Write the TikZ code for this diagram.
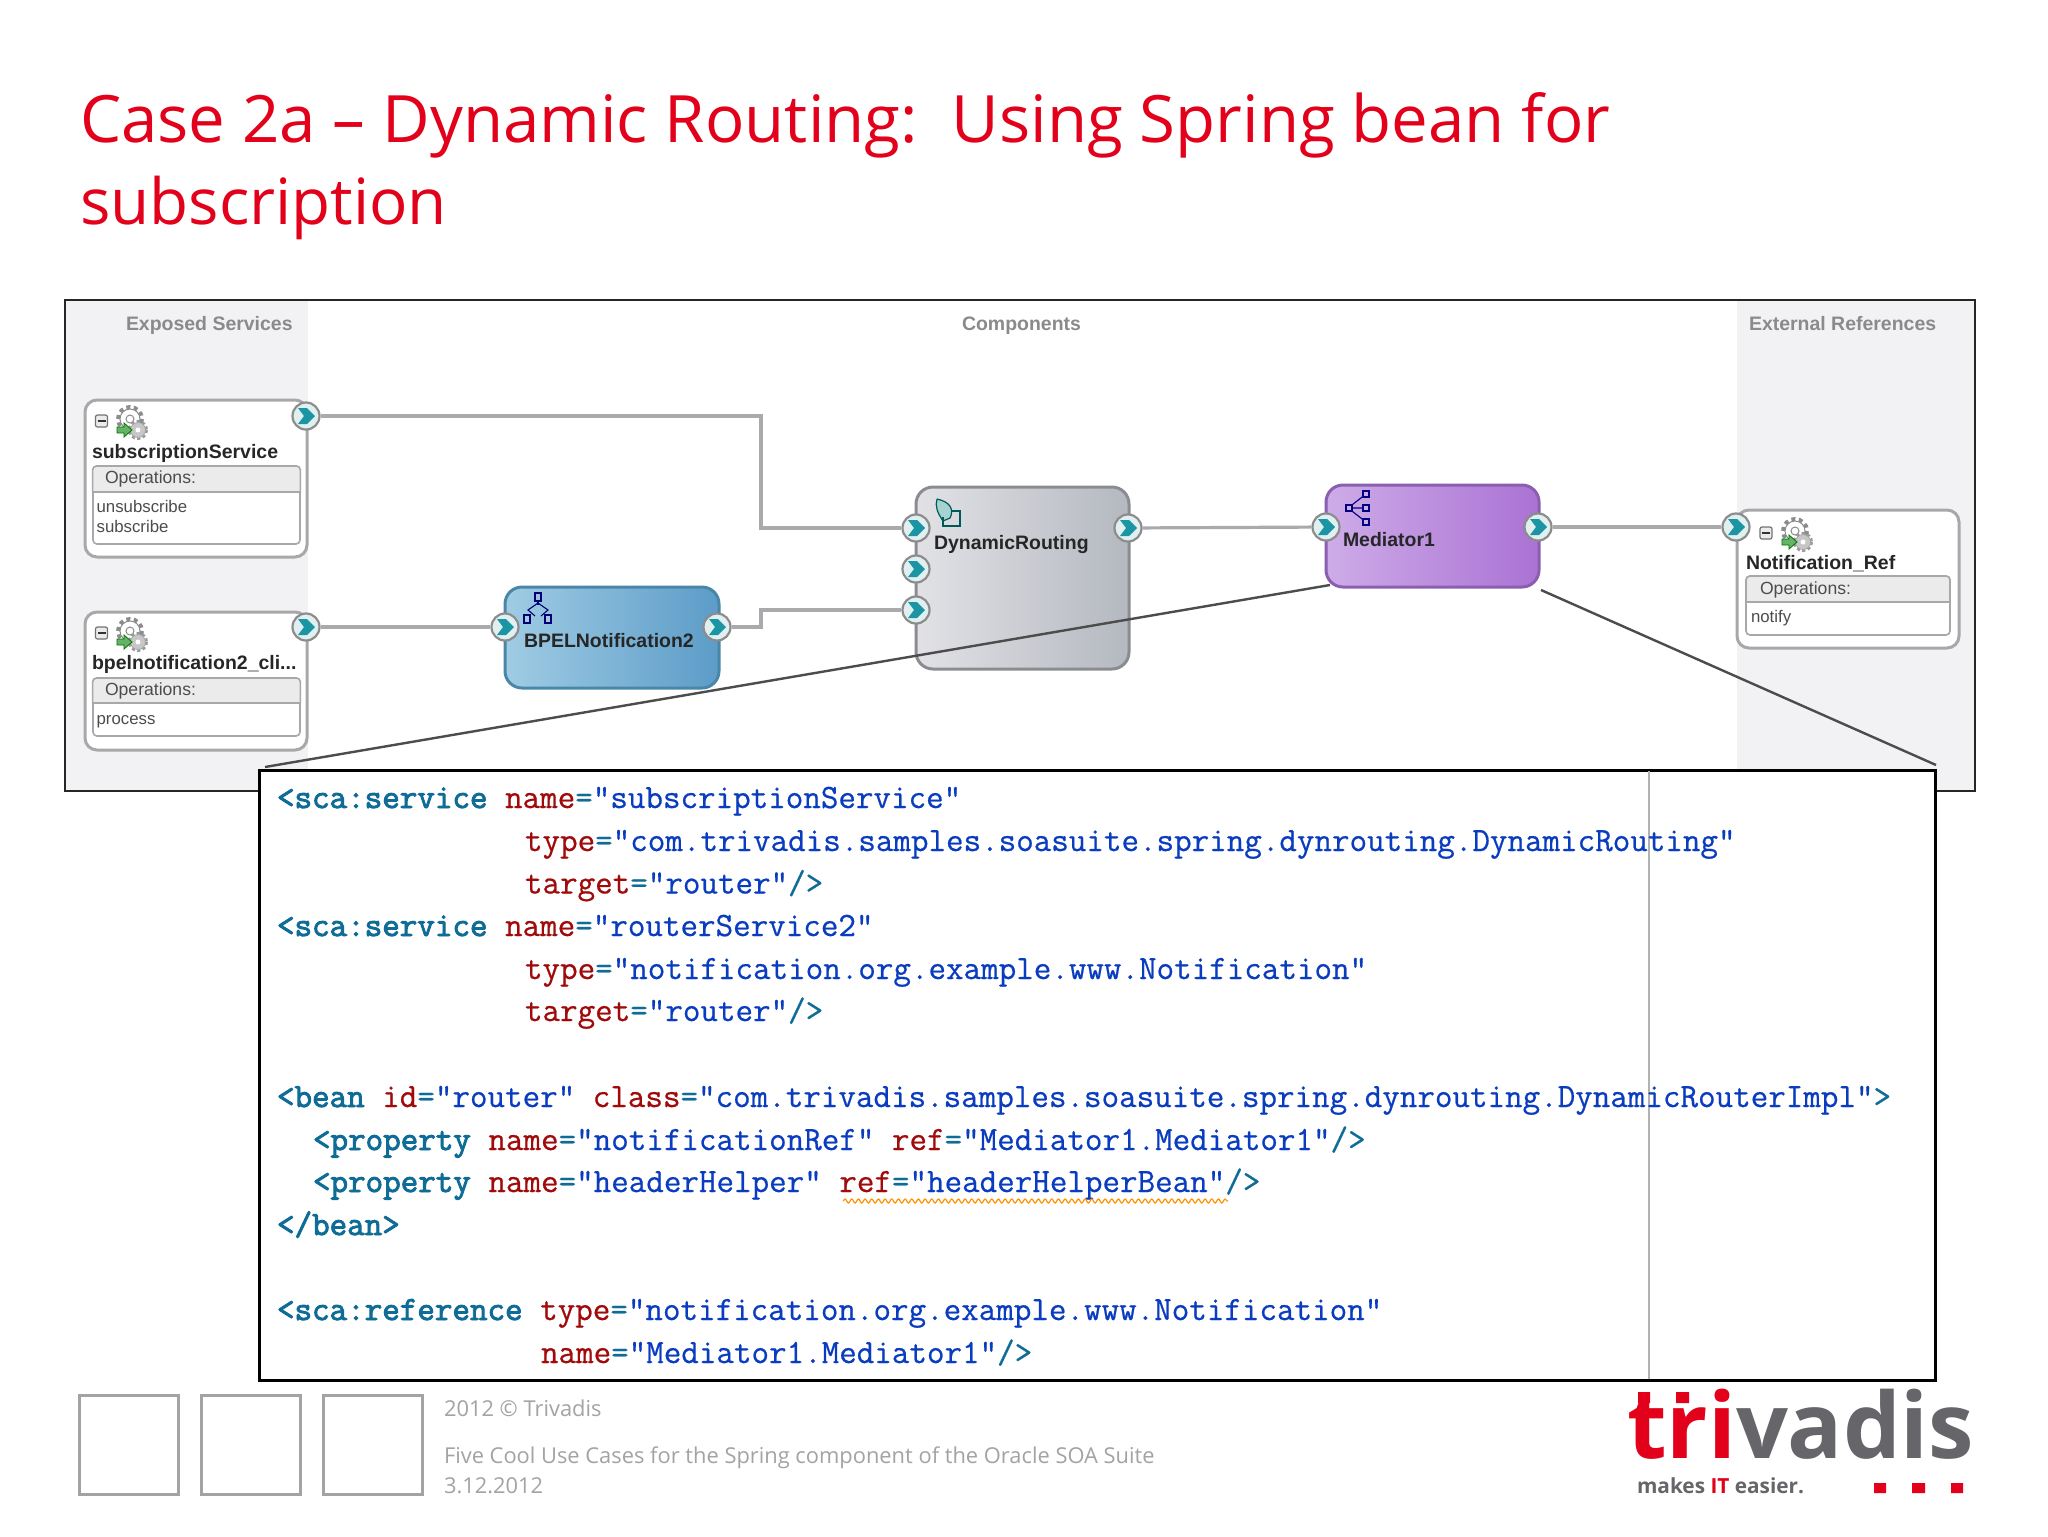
\documentclass[tikz,border=0pt]{standalone}
\usepackage{fontspec}
\setmainfont{Open Sans}
\newfontfamily\lib{Liberation Sans}
\newfontfamily\codereg[FakeBold=0.6]{Latin Modern Mono}
\newfontfamily\codebld[FakeBold=2.6]{Latin Modern Mono}
\usetikzlibrary{decorations.pathmorphing,shapes.geometric}
\definecolor{tvred}{HTML}{E2001A}
\definecolor{panelgray}{HTML}{F2F2F4}
\definecolor{hdrgray}{HTML}{8A8A8C}
\definecolor{wiregray}{HTML}{A8AAAC}
\definecolor{boxrim}{HTML}{A8A8AA}
\definecolor{portteal}{HTML}{1B95A3}
\definecolor{tagc}{HTML}{0F6C96}
\definecolor{attc}{HTML}{A00A0A}
\definecolor{valc}{HTML}{0A3CC0}
\definecolor{footgray}{HTML}{A3A3A3}
\definecolor{logogray}{HTML}{66666A}
\definecolor{bpa}{HTML}{A0CCE4}
\definecolor{bpb}{HTML}{5C9CC8}
\definecolor{bpr}{HTML}{4A86A8}
\definecolor{dya}{HTML}{E2E2E6}
\definecolor{dyb}{HTML}{B4B8C0}
\definecolor{dyr}{HTML}{8A8C90}
\definecolor{mda}{HTML}{CEACE8}
\definecolor{mdb}{HTML}{AA72D4}
\definecolor{mdr}{HTML}{8A5FB0}
\def\u{.75pt}
\newcommand{\cdtag}[1]{{\codebld\color{tagc}#1}}
\newcommand{\cdatt}[1]{{\color{attc}#1}}
\newcommand{\cdval}[1]{{\color{valc}#1}}
\newcommand{\cdeq}{{\color{tagc}=}}
\newcommand{\cdend}[1]{{\color{tagc}#1}}
\tikzset{
  x=.75pt,y=-.75pt,
  txt/.style={anchor=base west,inner sep=0pt,outer sep=0pt},
  bigname/.style={txt,font=\lib\bfseries\fontsize{14.6}{16}\selectfont,text=black!85},
  header/.style={txt,font=\lib\bfseries\fontsize{14.6}{16}\selectfont,text=hdrgray},
  opslabel/.style={txt,font=\lib\fontsize{13.2}{15}\selectfont,text=black!70},
  codeline/.style={txt,font=\codereg\fontsize{25.55}{28}\selectfont},
  foottext/.style={txt,font=\fontsize{16.4}{19}\selectfont,text=footgray},
  svcbox/.style={draw=boxrim,line width=3*\u,fill=white,rounded corners=12*\u,inner sep=0pt},
  innerbox/.style={draw=boxrim,line width=1.6*\u,fill=white,rounded corners=4*\u,inner sep=0pt},
  compbox/.style={line width=3*\u,rounded corners=17*\u,inner sep=0pt},
  portc/.style={circle,draw=black!45,line width=2.2*\u,fill=white!88!teal,minimum size=27*\u,inner sep=0pt},
  wire/.style={draw=wiregray,line width=3.2*\u},
  callout/.style={draw=black!70,line width=2.4*\u},
  sq/.style={draw=footgray,line width=3*\u,fill=white,inner sep=0pt,minimum width=99*\u,minimum height=99*\u},
  hdband/.style={draw=boxrim,line width=1.6*\u,fill=black!8},
}
\newcommand{\portat}[3]{%
  \node[portc] (#1) at (#2,#3) {};
  \fill[portteal,shift={(#2,#3)}] (-8,-8)--(1,-8)--(9,0)--(1,8)--(-8,8)--(-2,0)--cycle;}
\newcommand{\gearicon}[2]{%
  \begin{scope}[shift={(#1,#2)}]
    \draw[black!45,line width=4*\u,dash pattern=on 4*\u off 3.5*\u] (-1,-3) circle (12);
    \draw[black!45,fill=white,line width=1*\u] (-1,-3) circle (10);
    \fill[white] (-1,-3) circle (8);
    \draw[black!45,fill=white,line width=1*\u] (-1,-3) circle (4);
    \draw[black!40,line width=3*\u,dash pattern=on 3*\u off 2.5*\u] (7,8) circle (8.5);
    \draw[black!35,fill=black!22,line width=.8*\u] (7,8) circle (7.5);
    \fill[white] (7,8) circle (2.5);
    \draw[green!45!black,fill=green!50!black!60,line width=.8*\u] (-14,5)--(-7,5)--(-7,1)--(1,8)--(-7,15)--(-7,11)--(-14,11)--cycle;
  \end{scope}}
\newcommand{\minusicon}[2]{%
  \draw[black!55,fill=black!8,line width=1.2*\u,rounded corners=2*\u] (#1-6,#2-6) rectangle (#1+6,#2+6);
  \draw[black!80,line width=1.6*\u] (#1-4,#2)--(#1+4,#2);}
\begin{document}
\begin{tikzpicture}
\path[use as bounding box,fill=white] (0,0) rectangle (2048,1536);

% title
\node[txt,font=\fontsize{49}{58}\selectfont,text=tvred] (title1) at (80,142) {Case 2a -- Dynamic Routing:\ \ Using Spring bean for};
\node[txt,font=\fontsize{47.8}{58}\selectfont,text=tvred] (title2) at (80,224) {subscription};

% composite frame
\fill[panelgray] (65,300) rectangle (308,790);
\fill[panelgray] (1737,300) rectangle (1975,790);
\draw[black!85,line width=2*\u] (65,300) rectangle (1975,791);
\node[header] (hexp) at (126,330) {Exposed Services};
\node[header] (hcmp) at (962,330) {Components};
\node[header] (hext) at (1749,330) {External References};

% exposed service 1
\node[svcbox,minimum width=222*\u,minimum height=157*\u] (svca) at (196,478.5) {};
\minusicon{101.5}{421}
\gearicon{131}{422}
\node[bigname] (svcaname) at (92,458) {subscriptionService};
\node[innerbox,minimum width=207*\u,minimum height=78*\u] (svcaops) at (196.5,505) {};
\draw[hdband] (92.6,492) [rounded corners=4*\u] -- (92.6,466) -- (300.4,466) [sharp corners] -- (300.4,492) -- cycle;
\node[opslabel] (svcaop) at (105,483) {Operations:};
\node[opslabel,font=\lib\fontsize{12.6}{15}\selectfont] (svcao1) at (96.6,512) {unsubscribe};
\node[opslabel,font=\lib\fontsize{12.6}{15}\selectfont] (svcao2) at (96.6,532) {subscribe};

% exposed service 2
\node[svcbox,minimum width=222*\u,minimum height=138*\u] (svcb) at (196,681) {};
\minusicon{101.5}{633}
\gearicon{131}{634}
\node[bigname] (svcbname) at (92,669) {bpelnotification2\_cli...};
\node[innerbox,minimum width=207*\u,minimum height=58*\u] (svcbops) at (196.5,707) {};
\draw[hdband] (92.6,703) [rounded corners=4*\u] -- (92.6,678) -- (300.4,678) [sharp corners] -- (300.4,703) -- cycle;
\node[opslabel] (svcbop) at (105,695) {Operations:};
\node[opslabel,font=\lib\fontsize{12.6}{15}\selectfont] (svcbo1) at (96.6,724) {process};

% BPEL
\node[compbox,draw=bpr,left color=bpa,right color=bpb,minimum width=214*\u,minimum height=101*\u] (bpel) at (612,637.5) {};
\begin{scope}[shift={(538,608)},draw=blue!45!black,line width=1.1*\u]
  \draw (-3,-15) rectangle (3,-7);
  \draw (-3,8) -- (-10,2) -- (0,-5) -- (10,2) -- (3,8);
  \draw[fill=bpa] (-14,7) rectangle (-8,15);
  \draw[fill=bpa] (7,7) rectangle (13,15);
  \draw (0,-7) -- (0,-3);
\end{scope}
\node[bigname] (bpelname) at (524,647) {BPELNotification2};

% DynamicRouting
\node[compbox,draw=dyr,left color=dya,right color=dyb,minimum width=213*\u,minimum height=182*\u] (dyn) at (1022.5,578) {};
\begin{scope}[shift={(946,512)},draw=teal!70!black,line width=1.2*\u]
  \draw[fill=teal!35!white] (-9,-13) .. controls (5,-10) and (8,-2) .. (4,6) -- (-3,9) .. controls (-9,0) and (-11,-6) .. (-9,-13);
  \draw (-3,5) -- (-3,14) -- (14,14) -- (14,-1) -- (6,-1);
\end{scope}
\node[bigname] (dynname) at (934,549) {DynamicRouting};

% Mediator
\node[compbox,draw=mdr,left color=mda,right color=mdb,minimum width=213*\u,minimum height=102*\u] (med) at (1432.5,536) {};
\begin{scope}[shift={(1360,508)},draw=blue!50!black,line width=1.1*\u]
  \draw (-12,0) -- (6,-14) (-12,0) -- (6,0) (-12,0) -- (6,14);
  \draw[fill=mda] (-14,-3) rectangle (-8,3);
  \draw[fill=mda] (3,-17) rectangle (9,-11);
  \draw[fill=mda] (3,-3) rectangle (9,3);
  \draw[fill=mda] (3,11) rectangle (9,17);
\end{scope}
\node[bigname] (medname) at (1343,546) {Mediator1};

% external reference
\node[svcbox,minimum width=222*\u,minimum height=138*\u] (refb) at (1848,579) {};
\minusicon{1766}{533}
\gearicon{1796}{534}
\node[bigname] (refname) at (1746,569) {Notification\_Ref};
\node[innerbox,minimum width=204*\u,minimum height=59*\u] (refops) at (1848,605.5) {};
\draw[hdband] (1746,602) [rounded corners=4*\u] -- (1746,576) -- (1950,576) [sharp corners] -- (1950,602) -- cycle;
\node[opslabel] (refop) at (1760,594) {Operations:};
\node[opslabel,font=\lib\fontsize{12.6}{15}\selectfont] (refo1) at (1751,622) {notify};

% ports
\portat{psa}{306}{416}
\portat{psb}{306}{627}
\portat{pbl}{505}{627}
\portat{pbr}{717}{627}
\portat{pda}{916}{528}
\portat{pdb}{916}{569}
\portat{pdc}{916}{610}
\portat{pdr}{1128}{528}
\portat{pml}{1326}{527}
\portat{pmr}{1538}{527}
\portat{prf}{1736}{527}

% wires
\coordinate (bend) at (761,0);
\draw[wire] (psa) -- (psa -| bend) -- (pda -| bend) -- (pda);
\draw[wire] (psb) -- (pbl);
\draw[wire] (pbr) -- (pbr -| bend) -- (pdc -| bend) -- (pdc);
\draw[wire] (pdr) -- (pml);
\draw[wire] (pmr) -- (prf);

% callout
\coordinate (clla) at (1330,585);
\coordinate (cllb) at (265,767);
\coordinate (clra) at (1541,590);
\coordinate (clrb) at (1936,765);
\draw[callout] (clla) -- (cllb);
\draw[callout] (clra) -- (clrb);

% code box
\node[draw=black,line width=3*\u,fill=white,inner sep=0pt,minimum width=1676*\u,minimum height=610*\u] (codebox) at (1097,1075) {};
\coordinate (vlt) at (1649,771);
\coordinate (vlb) at (1649,1379);
\draw[black!30,line width=2*\u] (vlt) -- (vlb);

\node[codeline] (c1) at (277,808) {\cdtag{<sca:service} \cdatt{name}\cdeq\cdval{"subscriptionService"}};
\node[codeline] (c2) at (525,851) {\cdatt{type}\cdeq\cdval{"com.trivadis.samples.soasuite.spring.dynrouting.DynamicRouting"}};
\node[codeline] (c3) at (525,893.5) {\cdatt{target}\cdeq\cdval{"router"}\cdend{/>}};
\node[codeline] (c4) at (277,936) {\cdtag{<sca:service} \cdatt{name}\cdeq\cdval{"routerService2"}};
\node[codeline] (c5) at (525,979) {\cdatt{type}\cdeq\cdval{"notification.org.example.www.Notification"}};
\node[codeline] (c6) at (525,1021) {\cdatt{target}\cdeq\cdval{"router"}\cdend{/>}};
\node[codeline] (c7) at (277,1107) {\cdtag{<bean} \cdatt{id}\cdeq\cdval{"router"} \cdatt{class}\cdeq\cdval{"com.trivadis.samples.soasuite.spring.dynrouting.DynamicRouterImpl"}\cdend{>}};
\node[codeline] (c8) at (313,1150) {\cdtag{<property} \cdatt{name}\cdeq\cdval{"notificationRef"} \cdatt{ref}\cdeq\cdval{"Mediator1.Mediator1"}\cdend{/>}};
\node[codeline] (c9) at (313,1192) {\cdtag{<property} \cdatt{name}\cdeq\cdval{"headerHelper"} \cdatt{ref}\cdeq\cdval{"headerHelperBean"}\cdend{/>}};
\node[codeline] (c10) at (277,1235) {\cdtag{</bean>}};
\node[codeline] (c11) at (277,1320) {\cdtag{<sca:reference} \cdatt{type}\cdeq\cdval{"notification.org.example.www.Notification"}};
\node[codeline] (c12) at (541,1363) {\cdatt{name}\cdeq\cdval{"Mediator1.Mediator1"}\cdend{/>}};
\coordinate (wva) at (843,1201);
\coordinate (wvb) at (1228,1201);
\draw[orange!85!yellow,line width=1.2*\u,decorate,decoration={snake,amplitude=1.5pt,segment length=5pt}] (wva) -- (wvb);

% footer
\node[sq] (sqa) at (129,1444.5) {};
\node[sq] (sqb) at (251,1444.5) {};
\node[sq] (sqc) at (373,1444.5) {};
\node[foottext] (fa) at (444,1416) {2012 © Trivadis};
\node[foottext] (fb) at (444,1463) {Five Cool Use Cases for the Spring component of the Oracle SOA Suite};
\node[foottext] (fc) at (444,1493) {3.12.2012};

% logo
\node[txt,font=\bfseries\fontsize{68.5}{72}\selectfont] (logo) at (1627,1458) {\color{tvred}tri\color{logogray}vadis};
\fill[tvred] (1638,1392) rectangle (1650,1403) (1676,1392) rectangle (1689,1403);
\node[txt,font=\bfseries\fontsize{15.6}{18}\selectfont,text=logogray] (slogan) at (1637,1493) {makes \textcolor{tvred}{IT} easier.};
\fill[tvred] (1874,1483) rectangle (1886,1493) (1912,1483) rectangle (1925,1493) (1951,1483) rectangle (1963,1493);
\end{tikzpicture}
\end{document}
